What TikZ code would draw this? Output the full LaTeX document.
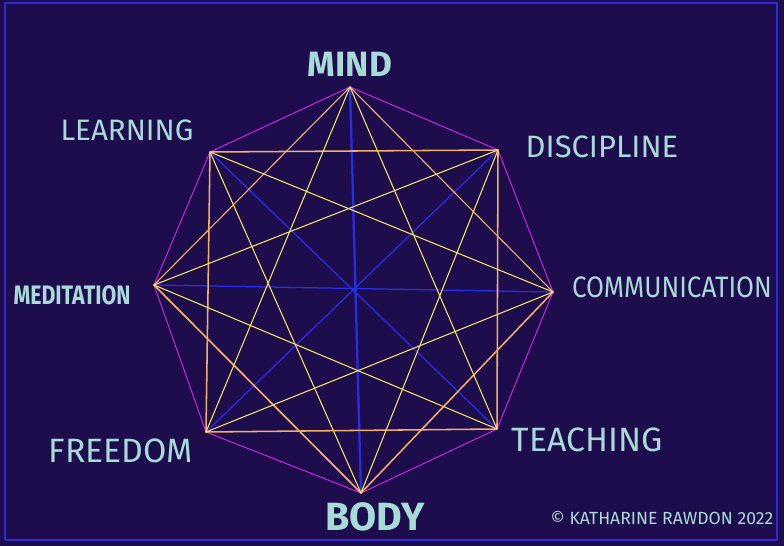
\documentclass[tikz,border=0pt]{standalone}
\usepackage{fontspec}
\setmainfont{Fira Sans}
\definecolor{night}{RGB}{30,13,77}
\definecolor{frameblue}{RGB}{45,40,215}
\definecolor{rimpink}{RGB}{205,35,225}
\definecolor{diagblue}{RGB}{40,45,235}
\definecolor{peach}{RGB}{245,175,100}
\definecolor{lemon}{RGB}{245,230,95}
\definecolor{chalk}{RGB}{168,218,216}
\tikzset{
  rim/.style={rimpink, line width=0.7pt},
  diam/.style={diagblue, line width=0.9pt},
  sq/.style={peach, line width=1.1pt},
  star/.style={lemon, line width=0.75pt},
  word/.style={text=chalk, inner sep=0pt, font=\bfseries},
}
\begin{document}
\begin{tikzpicture}[x=0.025cm, y=-0.025cm, line cap=round, line join=round]
  \fill[night] (0,0) rectangle (784,546);
  \useasboundingbox (0,0) rectangle (784,546);
  \draw[frameblue, line width=1.4pt] (5,3) rectangle (777,540);
  % the eight corners
  \coordinate (mind) at (350,87);
  \coordinate (disc) at (498,150);
  \coordinate (comm) at (553,292);
  \coordinate (teach) at (497,429);
  \coordinate (body) at (361,493);
  \coordinate (free) at (206,432);
  \coordinate (medi) at (154,285);
  \coordinate (learn) at (210,152);
  % outer ring
  \draw[rim] (mind) -- (disc) -- (comm) -- (teach) -- (body) -- (free) -- (medi) -- (learn) -- cycle;
  % long diagonals through the middle
  \draw[diam, line width=1.6pt] (mind) -- (body);
  \draw[diam] (learn) -- (teach);
  \draw[diam] (medi) -- (comm);
  \draw[diam] (disc) -- (free);
  % square and diamond
  \draw[sq] (learn) -- (disc) -- (teach) -- (free) -- cycle;
  \draw[sq, line width=0.8pt] (mind) -- (comm);
  \draw[sq, line width=0.8pt] (mind) -- (medi);
  \draw[sq, line width=1.2pt] (medi) -- (body);
  \draw[sq] (comm) -- (body);
  % star lines
  \foreach \a/\b in {mind/free, mind/teach, learn/comm, learn/body,
                     disc/medi, disc/body, comm/free, teach/medi}
    \draw[star] (\a) -- (\b);
  % words
  \node[word, font=\bfseries\fontsize{25}{25}\selectfont] (tmind) at (350,64) {MIND};
  \node[word, font=\fontsize{21}{21}\selectfont] (tlearn) at (127,130) {LEARNING};
  \node[word, font=\fontsize{22}{22}\selectfont] (tdisc) at (602,147) {DISCIPLINE};
  \node[word, font=\bfseries\fontsize{19}{19}\selectfont, xscale=0.8] (tmedi) at (72,295) {MEDITATION};
  \node[word, font=\fontsize{21}{21}\selectfont, xscale=0.88] (tcomm) at (672,287) {COMMUNICATION};
  \node[word, font=\fontsize{24}{24}\selectfont] (tfree) at (121,451) {FREEDOM};
  \node[word, font=\fontsize{24}{24}\selectfont] (tteach) at (587,440) {TEACHING};
  \node[word, font=\bfseries\fontsize{28}{28}\selectfont] (tbody) at (375,517) {BODY};
  \node[word, font=\fontsize{12.5}{12.5}\selectfont\mdseries] (tcopy) at (662,518) {© KATHARINE RAWDON 2022};
\end{tikzpicture}
\end{document}
